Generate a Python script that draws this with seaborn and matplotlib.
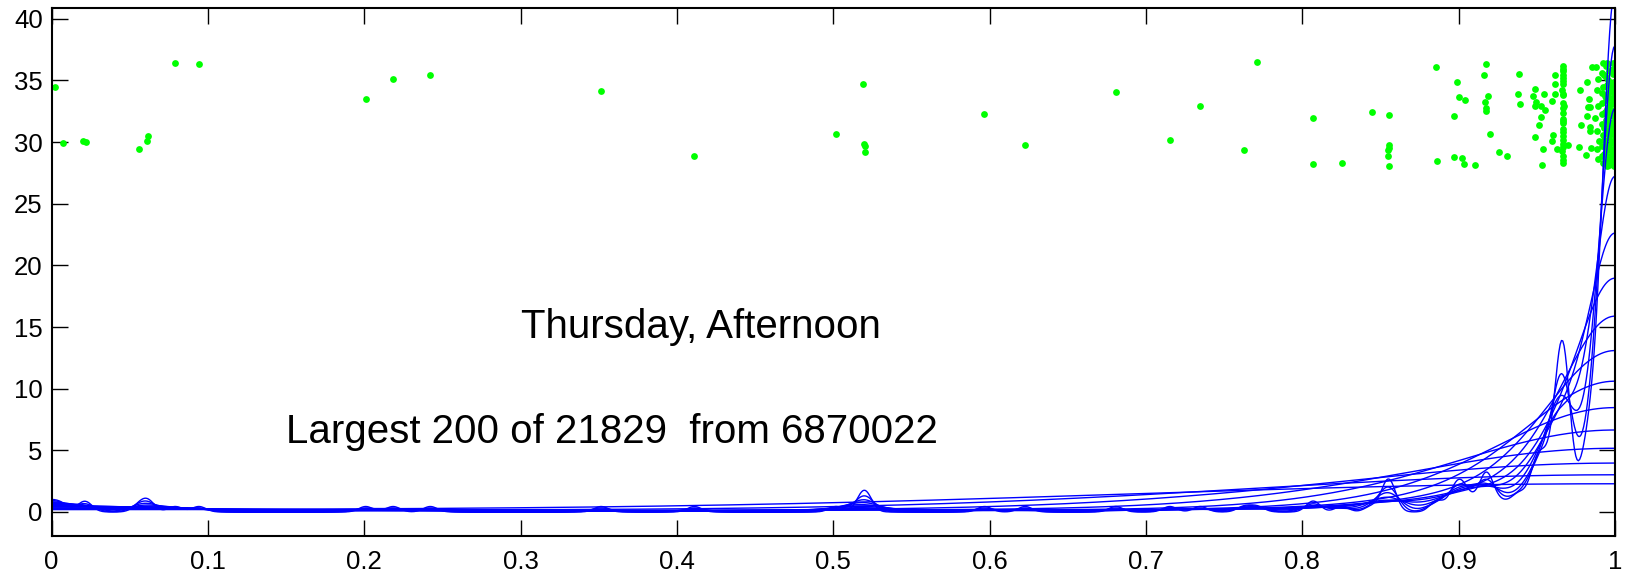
import numpy as np
import matplotlib
matplotlib.use("Agg")
import matplotlib.pyplot as plt
import seaborn as sns

# ---- data: the 200 largest values (x, rescaled to [0,1]) with vertical jitter (y) ----
sparse_x = [0.0023, 0.0073, 0.0203, 0.0221, 0.0557, 0.0610, 0.0619, 0.0790, 0.0942, 0.2009,
            0.2184, 0.2422, 0.3515, 0.4111, 0.5017, 0.5192, 0.5196, 0.5205, 0.5201, 0.5967,
            0.6227, 0.6807, 0.7153, 0.7347, 0.7712, 0.7628, 0.8070, 0.8070, 0.8253, 0.8443]
sparse_y = [34.48, 29.89, 30.10, 29.99, 29.43, 30.08, 30.51, 36.38, 36.29, 33.48,
            35.11, 35.40, 34.18, 28.88, 30.64, 34.73, 29.88, 29.70, 29.21, 32.27,
            29.75, 34.03, 30.13, 32.89, 36.51, 29.34, 31.97, 28.18, 28.34, 32.43]

mid_x = [0.8552, 0.8553, 0.8556, 0.8550, 0.8549, 0.8552, 0.8858, 0.8991, 0.9002, 0.9042,
         0.8970, 0.8863, 0.8970, 0.9019, 0.9036,
         0.9177, 0.9164, 0.9185, 0.9172, 0.9174, 0.9178, 0.9198, 0.9102, 0.9258, 0.9309,
         0.9386, 0.9379, 0.9392, 0.9486, 0.9473, 0.9494, 0.9486, 0.9527, 0.9548, 0.9524,
         0.9516, 0.9486, 0.9539, 0.9533, 0.9554,
         0.9616, 0.9614, 0.9614, 0.9599, 0.9607, 0.9597, 0.9627, 0.9701]
mid_y = [32.18, 29.80, 29.50, 29.35, 28.86, 28.05, 36.10, 34.84, 33.62, 33.43,
         32.10, 28.43, 28.80, 28.70, 28.21,
         36.35, 35.43, 33.75, 33.26, 32.75, 32.48, 30.67, 28.10, 29.16, 28.86,
         35.54, 33.91, 33.08, 34.29, 33.73, 33.21, 32.94, 32.94, 33.91, 32.02,
         31.37, 30.37, 29.43, 28.13, 32.56,
         35.43, 34.70, 33.92, 33.35, 30.57, 30.08, 29.41, 29.80]

col_x = [0.9667, 0.9668, 0.9666, 0.9669, 0.9665, 0.9670, 0.9667, 0.9666, 0.9668, 0.9667,
         0.9669, 0.9668, 0.9670, 0.9667, 0.9666, 0.9668, 0.9667,
         0.9665, 0.9670, 0.9662, 0.9672, 0.9668, 0.9664,
         0.9669, 0.9666, 0.9671, 0.9665]
col_y = [36.13, 35.73, 35.19, 34.73, 33.92, 33.81, 33.13, 32.75, 32.34, 31.51,
         31.08, 30.83, 30.16, 29.83, 29.56, 28.53, 28.32,
         35.95, 35.45, 34.20, 32.95, 31.90, 29.25,
         34.95, 31.70, 30.45, 28.90]

near_x = [0.9851, 0.9824, 0.9775, 0.9837, 0.9826, 0.9841, 0.9820, 0.9781, 0.9841, 0.9843,
          0.9768, 0.9845, 0.9815]
near_y = [36.05, 34.84, 34.25, 33.51, 32.86, 32.86, 32.10, 31.37, 31.19, 30.86,
          29.59, 29.48, 28.99]

edge_x = [0.9925, 0.9952, 0.9985, 0.9998, 0.9920, 0.9958, 0.9972, 0.9950, 0.9968, 0.9980,
          0.9915, 0.9935, 0.9962, 0.9920, 0.9975, 0.9948, 0.9918, 0.9960, 0.9985, 0.9940,
          0.9920, 0.9985, 0.9958, 0.9990, 0.9925, 0.9968, 0.9930, 0.9995, 0.9920, 0.9962,
          0.9948, 0.9980, 0.9920, 0.9955, 0.9985, 0.9922, 0.9965, 0.9995,
          0.9878, 0.9942, 0.9990, 0.9965, 0.9930, 0.9988, 0.9890, 0.9944, 0.9995, 0.9925,
          0.9982, 0.9885, 0.9955, 0.9993, 0.9940, 0.9985, 0.9890, 0.9962, 0.9995, 0.9935,
          0.9972, 0.9872, 0.9950, 0.9990, 0.9962, 0.9930, 0.9975, 0.9885, 0.9945, 0.9998,
          0.9960, 0.9895, 0.9978, 0.9940, 0.9998, 0.9885, 0.9970, 0.9932, 0.9992, 0.9960,
          0.9890, 0.9940, 0.9980, 0.9950]
edge_y = [36.38, 36.45, 36.44, 36.35, 35.62, 35.05, 34.78, 34.62, 34.30, 34.10,
          33.98, 33.75, 33.60, 33.15, 33.10, 32.70, 32.30, 32.15, 32.12, 31.75,
          31.50, 31.20, 30.95, 30.80, 30.60, 30.65, 30.20, 30.10, 29.65, 29.60,
          29.35, 29.20, 28.85, 28.85, 28.55, 28.28, 28.15, 28.05,
          36.10, 36.20, 35.90, 35.80, 35.40, 35.50, 35.10, 35.25, 34.90, 34.45,
          34.55, 34.20, 33.95, 33.80, 33.40, 33.45, 32.90, 32.95, 32.60, 32.45,
          32.40, 31.95, 31.90, 31.65, 31.45, 31.10, 30.95, 30.90, 30.75, 30.45,
          30.30, 30.05, 29.90, 29.80, 29.55, 29.40, 29.45, 29.05, 28.90, 28.70,
          28.60, 28.45, 28.30, 28.05]

bandwidths = [0.0045, 0.0061, 0.0082, 0.0112, 0.0151, 0.0204, 0.0276, 0.0374,
              0.0506, 0.0684, 0.0926, 0.125, 0.169, 0.229, 0.31]

x_ticks = [0, 0.1, 0.2, 0.3, 0.4, 0.5, 0.6, 0.7, 0.8, 0.9, 1.0]
x_tick_labels = ["0", "0.1", "0.2", "0.3", "0.4", "0.5", "0.6", "0.7", "0.8", "0.9", "1"]
y_ticks = [0, 5, 10, 15, 20, 25, 30, 35, 40]
y_tick_labels = ["0", "5", "10", "15", "20", "25", "30", "35", "40"]

title_text = "Thursday, Afternoon"
info_text = "Largest 200 of 21829  from 6870022"

# ---- figure ----
sns.set_style("ticks")
plt.rcParams["font.family"] = ["Liberation Sans", "DejaVu Sans"]
plt.rcParams["text.color"] = "black"
plt.rcParams["axes.labelcolor"] = "black"
plt.rcParams["xtick.color"] = "black"
plt.rcParams["ytick.color"] = "black"

fig = plt.figure(figsize=(16.25, 5.76), dpi=100)
ax = fig.add_axes([0.0318, 0.0694, 0.9620, 0.9167])

px = np.array(sparse_x + mid_x + col_x + near_x + edge_x)
py = np.array(sparse_y + mid_y + col_y + near_y + edge_y)

sns.scatterplot(x=px, y=py, color="#00ff00", s=24, linewidth=0, ax=ax, zorder=1)

# reflected KDE family (boundary reflection at 0 and 1)
x_aug = np.concatenate([px, -px, 2 - px])
sd = np.std(x_aug, ddof=1)
for h in bandwidths:
    sns.kdeplot(x=x_aug, bw_method=h / sd, clip=(0, 1), gridsize=1200,
                color="#0000ff", lw=1.0, ax=ax, zorder=2)
    ln = ax.lines[-1]
    ln.set_ydata(ln.get_ydata() * 3)

ax.text(0.3, 15, title_text, fontsize=29, va="center", ha="left", color="black")
ax.text(0.15, 6.5, info_text, fontsize=29, va="center", ha="left", color="black")

ax.set_xlim(0, 1)
ax.set_ylim(-1.95, 40.87)
ax.set_xticks(x_ticks)
ax.set_xticklabels(x_tick_labels)
ax.set_yticks(y_ticks)
ax.set_yticklabels(y_tick_labels)
ax.set_xlabel("")
ax.set_ylabel("")
for s in ax.spines.values():
    s.set_visible(True)
    s.set_linewidth(1.5)
    s.set_color("black")
ax.tick_params(direction="in", length=11.5, width=1.0, top=True, right=True,
               labelsize=18.5, colors="black")
ax.tick_params(axis="x", pad=10)
ax.tick_params(axis="y", pad=6.5)

fig.savefig("out.png", dpi=100, facecolor="white")
